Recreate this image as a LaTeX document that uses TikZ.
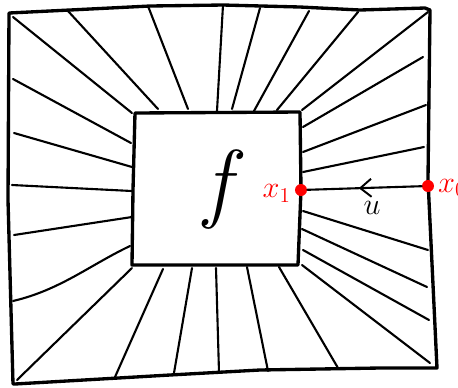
\documentclass[tikz,border=0pt]{standalone}
\usepackage{amsmath,amssymb}
\usepackage{tikz}
\usetikzlibrary{positioning,arrows.meta,decorations.markings}
\usepackage{xcolor}

\begin{document}
\begin{tikzpicture}[
  x=0.02cm, y=-0.02cm,
  frame/.style={line width=1.9pt, line join=round, line cap=round},
  ray/.style={line width=1.2pt, line cap=round},
  dot/.style={circle, fill=red, inner sep=0pt, minimum size=2.4mm},
  lbl/.style={text=red, font=\LARGE, inner sep=1pt},
  flow/.style={ray, decoration={markings, mark=at position 0.55 with {\arrow{Straight Barb[length=2.2mm, width=3.6mm, line width=1.1pt]}}}, postaction={decorate}}
]
\useasboundingbox (0,0) rectangle (458,387);

\draw[frame] (9,13) -- (70,10) -- (150,6) -- (223,5) -- (300,7) -- (360,10) -- (425,8)
  -- (430,10) -- (428,180) -- (437,368) -- (380,368) -- (260,370) -- (170,375) -- (15,384)
  -- (13,384) -- (8,200) -- cycle;
\draw[frame] (135,113) -- (300,112) -- (301,190) -- (298,265) -- (132,265) -- (133,190) -- cycle;

% top
\draw[ray] (13,17) -- (132,113);
\draw[ray] (68,11) -- (158,109);
\draw[ray] (148,6) -- (188,109);
\draw[ray] (223,5) -- (217,111);
\draw[ray] (260,8) -- (232,109);
\draw[ray] (309,11) -- (254,111);
\draw[ray] (358,12) -- (277,110);
\draw[ray] (428,12) -- (302,110);
% left
\draw[ray] (13,79) -- (131,143);
\draw[ray] (14,133) -- (132,167);
\draw[ray] (12,185) -- (132,191);
\draw[ray] (14,235) -- (132,217);
\draw[ray] (13,301) .. controls (60,290) and (90,265) .. (130,246);
\draw[ray] (17,380) -- (132,268);
% bottom
\draw[ray] (115,377) -- (163,269);
\draw[ray] (174,373) -- (192,268);
\draw[ray] (219,372) -- (216,268);
\draw[ray] (268,371) -- (247,267);
\draw[ray] (338,368) -- (279,267);
\draw[ray] (430,363) -- (302,265);
% right
\draw[ray] (303,127) -- (423,57);
\draw[ray] (303,152) -- (426,105);
\draw[ray] (303,172) -- (424,147);
\draw[ray] (303,211) -- (428,250);
\draw[ray] (302,229) -- (427,287);
\draw[ray] (303,250) -- (429,320);

\node[font=\fontsize{50}{50}\selectfont\itshape] (fval) at (218,190) {f};

\node[dot] (xin) at (301,190) {};
\node[dot] (xout) at (428,186) {};
\draw[flow] (xout) -- (xin);
\node[lbl, anchor=east] (xinlbl) at ([xshift=-1pt,yshift=-2pt]xin.west) {$x_1$};
\node[lbl, anchor=west] (xoutlbl) at ([xshift=1pt,yshift=-1pt]xout.east) {$x_0$};
\node[font=\LARGE] (ulbl) at (372,208) {$u$};
\end{tikzpicture}
\end{document}
